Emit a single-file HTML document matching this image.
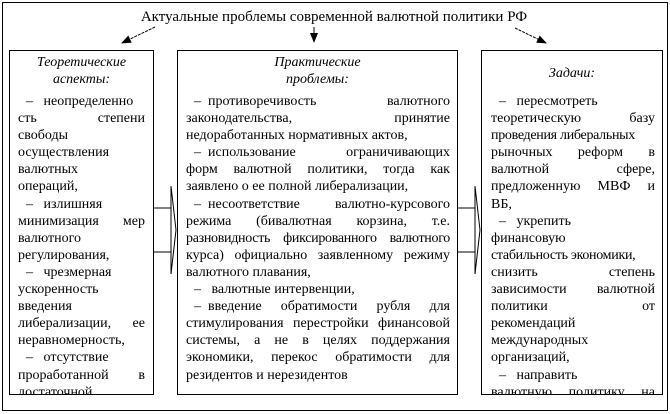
<!DOCTYPE html>
<html><head><meta charset="utf-8"><style>
body{margin:0;width:670px;height:414px;background:#fff;position:relative;overflow:hidden;font-family:"Liberation Serif","Noto Serif CJK SC",serif;color:#000}
.abs{position:absolute}
.box{position:absolute;border:1px solid #000;overflow:hidden;background:#fff;box-sizing:border-box}
.c{position:absolute;font-size:14px;line-height:17.1px}
.c div{white-space:nowrap;overflow:visible}
.j{text-align:justify;text-align-last:justify;white-space:nowrap}
.c .j{white-space:normal;height:17.1px;overflow:visible}
.h{position:absolute;left:0;right:0;text-align:center;font-style:italic;font-size:14px;line-height:17px}
.d{padding-left:8px}
.k{display:inline-block}
</style></head><body>
<div class="abs" style="left:2px;top:2px;width:664px;height:407px;border:1px solid #000"></div>
<div class="abs" style="left:0;width:670px;top:8px;text-align:center;font-size:15px;line-height:18px"><span style="position:relative;left:-1px">Актуальные проблемы современной валютной политики РФ</span></div>
<svg class="abs" style="left:0;top:0" width="670" height="414">
<defs><marker id="a" markerWidth="10" markerHeight="8" refX="9" refY="4" orient="auto" markerUnits="userSpaceOnUse"><path d="M0,0 L10,4 L0,8z" fill="#000"/></marker></defs>
<line x1="155" y1="27" x2="122" y2="43" stroke="#000" stroke-dasharray="3,1" marker-end="url(#a)"/>
<line x1="314" y1="27" x2="314" y2="42" stroke="#000" marker-end="url(#a)"/>
<line x1="515" y1="28" x2="546" y2="43" stroke="#000" stroke-dasharray="3,1" marker-end="url(#a)"/>
<path d="M153,208 H171 M153,252 H171 M171,186 V274 M171,186 L176,230 L171,274" stroke="#000" fill="none"/>
<path d="M457,208 H475 M457,252 H475 M475,186 V274 M475,186 L480,230 L475,274" stroke="#000" fill="none"/>
</svg>

<div class="box" style="left:9px;top:50px;width:145px;height:345px">
<div class="h" style="top:3px">Теоретические<br>аспекты:</div>
<div class="c" style="left:8px;width:127px;top:42px">
<div class="d">–&nbsp;&nbsp;&nbsp;неопределенно</div>
<div class="j">сть степени</div>
<div>свободы</div>
<div>осуществления</div>
<div>валютных</div>
<div>операций,</div>
<div class="d">–&nbsp;&nbsp;&nbsp;излишняя</div>
<div class="j">минимизация мер</div>
<div>валютного</div>
<div>регулирования,</div>
<div class="d">–&nbsp;&nbsp;&nbsp;чрезмерная</div>
<div>ускоренность</div>
<div>введения</div>
<div class="j">либерализации, ее</div>
<div>неравномерность,</div>
<div class="d">–&nbsp;&nbsp;&nbsp;отсутствие</div>
<div class="j">проработанной в</div>
<div>достаточной</div>
</div></div>

<div class="box" style="left:177px;top:50px;width:281px;height:345px">
<div class="h" style="top:3px">Практические<br>проблемы:</div>
<div class="c" style="left:8px;width:264px;top:42px">
<div class="j d"><span class="k">–&nbsp;&nbsp;противоречивость</span> валютного</div>
<div class="j">законодательства, принятие</div>
<div>недоработанных нормативных актов,</div>
<div class="j d"><span class="k">–&nbsp;&nbsp;использование</span> ограничивающих</div>
<div class="j">форм валютной политики, тогда как</div>
<div>заявлено о ее полной либерализации,</div>
<div class="j d"><span class="k">–&nbsp;&nbsp;несоответствие</span> валютно-курсового</div>
<div class="j">режима (бивалютная корзина, т.е.</div>
<div class="j" style="letter-spacing:-0.3px">разновидность фиксированного валютного</div>
<div class="j">курса) официально заявленному режиму</div>
<div>валютного плавания,</div>
<div class="d">–&nbsp;&nbsp;&nbsp;валютные интервенции,</div>
<div class="j d"><span class="k">–&nbsp;&nbsp;введение</span> обратимости рубля для</div>
<div class="j">стимулирования перестройки финансовой</div>
<div class="j">системы, а не в целях поддержания</div>
<div class="j">экономики, перекос обратимости для</div>
<div>резидентов и нерезидентов</div>
</div></div>

<div class="box" style="left:481px;top:50px;width:182px;height:345px">
<div class="h" style="top:14px">Задачи:</div>
<div class="c" style="left:9px;width:164px;top:42px">
<div class="d">–&nbsp;&nbsp;&nbsp;пересмотреть</div>
<div class="j">теоретическую базу</div>
<div style="letter-spacing:-0.3px">проведения либеральных</div>
<div class="j">рыночных реформ в</div>
<div class="j">валютной сфере,</div>
<div class="j">предложенную МВФ и</div>
<div>ВБ,</div>
<div class="d">–&nbsp;&nbsp;&nbsp;укрепить</div>
<div>финансовую</div>
<div style="letter-spacing:-0.3px">стабильность экономики,</div>
<div class="j">снизить степень</div>
<div class="j">зависимости валютной</div>
<div class="j">политики от</div>
<div>рекомендаций</div>
<div>международных</div>
<div>организаций,</div>
<div class="d">–&nbsp;&nbsp;&nbsp;направить</div>
<div class="j">валютную политику на</div>
</div></div>
</body></html>
